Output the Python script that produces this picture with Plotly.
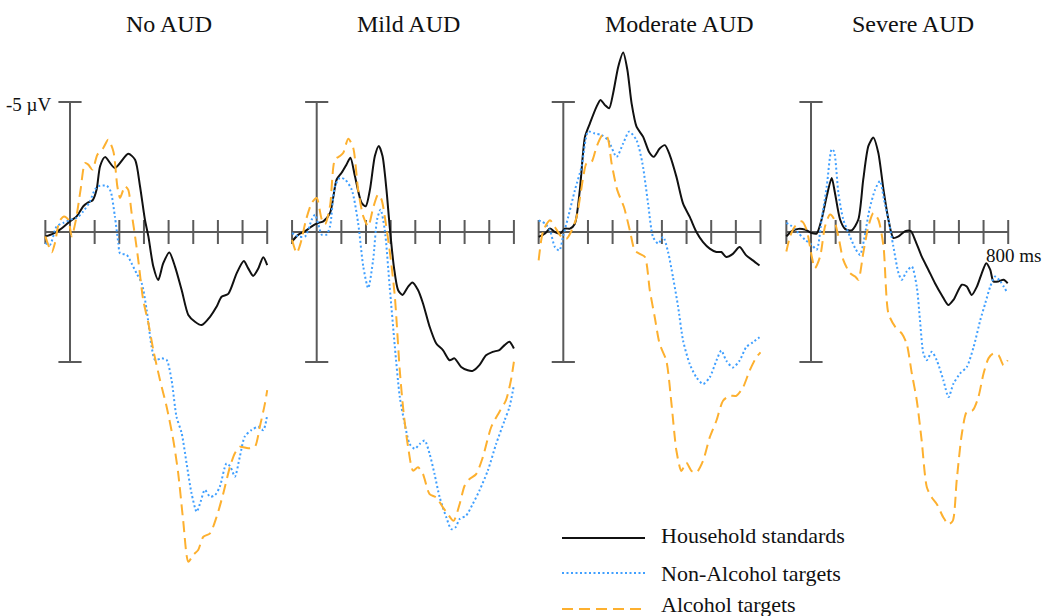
import plotly.graph_objects as go

W, H = 1045, 616

panel_titles = ["No AUD", "Mild AUD", "Moderate AUD", "Severe AUD"]
series_names = ["Household standards", "Non-Alcohol targets", "Alcohol targets"]
tick_times = [-100, 0, 100, 200, 300, 400, 500, 600, 700, 800]

# ---------------- No AUD ----------------
no_std_t = [-100, -68, -41, 0, 27, 54, 74, 92, 108, 122, 142, 182, 236, 264, 284, 304, 318, 338, 358, 378, 403, 426,
            453, 480, 507, 534, 568, 595, 615, 642, 676, 705, 723, 743, 764, 784, 800]
no_std_v = [0.17, 0.06, -0.09, -0.41, -0.6, -0.99, -1.14, -1.22, -1.63, -2.53, -2.88, -2.46, -3.01, -2.78, -1.76,
            -0.47, 0.17, 1.33, 1.85, 1.21, 0.79, 1.33, 2.23, 3.19, 3.45, 3.58, 3.26, 2.87, 2.49, 2.38, 1.59, 1.12,
            1.40, 1.69, 1.40, 0.97, 1.27]
no_non_t = [-100, -81, -54, -27, 0, 27, 54, 81, 101, 115, 149, 165, 182, 196, 203, 230, 250, 270, 291, 311, 331, 345,
            372, 392, 412, 432, 453, 473, 493, 514, 530, 547, 568, 588, 608, 635, 651, 669, 689, 709, 736, 764, 784,
            800]
no_non_v = [0.42, 0.49, -0.22, -0.35, -0.47, -0.54, -0.79, -1.18, -1.63, -1.76, -1.78, -1.56, -0.60, 0.42, 0.82,
            0.88, 1.21, 1.59, 1.97, 3.0, 4.41, 4.92, 4.86, 4.92, 5.69, 7.1, 7.74, 8.9, 10.05, 10.76, 10.37, 9.92,
            10.18, 10.12, 9.79, 8.9, 9.03, 9.41, 8.64, 7.87, 7.62, 7.49, 7.62, 7.04]
no_alc_t = [-100, -74, -61, -43, -24, -7, 7, 24, 43, 61, 74, 91, 111, 135, 155, 176, 192, 203, 223, 236, 250, 264,
            277, 297, 318, 338, 365, 392, 419, 439, 459, 480, 500, 520, 541, 568, 595, 622, 649, 669, 689, 723, 750,
            770, 791, 800]
no_alc_v = [0.17, 0.78, 0.42, -0.41, -0.60, -0.47, 0.17, -0.47, -1.63, -2.65, -2.59, -2.40, -2.97, -3.23, -3.55,
            -3.10, -1.76, -1.31, -1.76, -1.63, -0.73, 0.17, 1.08, 2.62, 3.51, 4.54, 5.69, 6.72, 8.0, 9.28, 11.08,
            12.68, 12.42, 12.23, 11.72, 11.59, 10.95, 10.05, 9.03, 8.51, 8.26, 8.32, 8.26, 7.49, 6.59, 6.08]

# ---------------- Mild AUD ----------------
mild_std_t = [-100, -74, -47, -20, 7, 27, 54, 81, 101, 121, 137, 155, 182, 199, 216, 236, 252, 267, 283, 296, 313,
              330, 348, 371, 388, 411, 431, 458, 485, 512, 539, 559, 586, 613, 633, 660, 687, 714, 741, 762, 782, 800]
mild_std_v = [0.36, 0.10, -0.03, -0.22, -0.35, -0.41, -0.73, -2.02, -2.28, -2.6, -2.86, -2.15, -1.12, -0.99, -1.63,
              -2.92, -3.31, -2.92, -1.63, -0.22, 1.33, 2.23, 2.42, 2.10, 1.94, 2.23, 2.74, 3.64, 4.29, 4.54, 4.93,
              4.86, 5.19, 5.32, 5.34, 5.12, 4.74, 4.61, 4.54, 4.35, 4.22, 4.48]
mild_non_t = [-100, -74, -47, -20, -7, 7, 20, 40, 54, 74, 94, 115, 142, 168, 189, 209, 229, 245, 259, 276, 296, 317,
              337, 357, 377, 398, 418, 438, 458, 478, 499, 526, 546, 563, 580, 606, 633, 660, 694, 728, 762, 782, 800]
mild_non_v = [0.04, 0.17, 0.17, -0.48, -0.67, -0.28, 0.10, 0.10, -0.22, -1.76, -2.08, -2.02, -1.63, -0.35, 1.33,
              2.16, 1.07, -0.48, -0.86, -0.09, 2.10, 4.41, 6.34, 7.37, 8.15, 8.34, 8.15, 8.02, 8.53, 9.31, 10.21,
              10.98, 11.43, 11.36, 11.04, 10.91, 10.46, 9.95, 9.18, 8.15, 7.25, 6.73, 5.89]
mild_alc_t = [-100, -81, -65, -43, -20, 0, 20, 34, 54, 74, 94, 108, 128, 148, 168, 189, 209, 229, 249, 263, 280, 299,
              317, 337, 353, 371, 391, 411, 431, 458, 485, 512, 532, 555, 580, 600, 620, 647, 674, 708, 741, 768, 788,
              800]
mild_alc_v = [0.30, 0.81, 0.42, -0.48, -1.12, -1.31, -0.5, -0.3, -1.0, -2.79, -2.92, -3.05, -3.59, -3.24, -1.63,
              -0.60, -0.22, -0.93, -1.44, -1.25, -0.35, 0.94, 2.48, 5.32, 6.99, 8.28, 9.18, 9.05, 9.31, 10.08, 10.21,
              10.59, 10.85, 11.11, 10.46, 9.76, 9.50, 9.31, 8.66, 7.50, 6.92, 6.47, 5.70, 4.99]

# ---------------- Moderate AUD ----------------
mod_std_t = [-100, -74, -54, -34, -13, 7, 27, 47, 67, 88, 108, 135, 151, 169, 186, 202, 223, 243, 260, 277, 297, 324,
             348, 367, 391, 412, 432, 459, 486, 513, 540, 567, 594, 621, 641, 661, 688, 715, 742, 769, 796]
mod_std_v = [0.19, 0.06, -0.13, 0, 0.06, -0.13, -0.13, -0.32, -1.61, -3.66, -4.18, -4.82, -5.08, -4.88, -4.76, -5.33,
             -6.36, -6.90, -6.23, -4.95, -4.05, -3.66, -3.08, -2.89, -3.21, -3.34, -2.96, -2.12, -1.09, -0.58, 0,
             0.39, 0.64, 0.77, 0.77, 0.96, 0.84, 0.58, 0.90, 1.09, 1.29]
mod_non_t = [-100, -74, -54, -34, -16, 0, 20, 47, 74, 101, 128, 155, 182, 216, 243, 267, 297, 321, 344, 364, 385, 405,
             425, 445, 466, 486, 513, 540, 567, 594, 621, 641, 661, 688, 715, 742, 769, 796]
mod_non_v = [-0.45, -0.32, -0.06, 0.58, 0.71, 0.13, -0.58, -1.61, -2.51, -3.86, -3.79, -3.73, -3.53, -2.89, -3.41,
             -3.86, -3.53, -2.64, -1.09, 0.19, 0.45, 0.19, 0.77, 1.74, 2.89, 4.18, 5.08, 5.59, 5.85, 5.59, 4.95, 4.56,
             4.95, 5.21, 4.95, 4.43, 4.24, 4.05]
mod_alc_t = [-100, -81, -54, -34, -7, 13, 34, 54, 81, 94, 115, 135, 159, 178, 196, 219, 246, 270, 290, 310, 331, 351,
             371, 391, 418, 439, 459, 479, 499, 520, 540, 567, 594, 621, 648, 675, 702, 729, 756, 783, 800]
mod_alc_v = [1.09, -0.06, -0.45, -0.19, 0.19, 0.26, -0.06, -0.58, -2.12, -2.64, -2.70, -3.28, -3.73, -3.66, -2.64,
             -1.61, -0.96, -0.06, 0.71, 0.84, 0.96, 2.25, 3.28, 4.31, 4.95, 6.62, 8.42, 9.19, 8.87, 9.19, 9.25, 8.80,
             7.90, 7.26, 6.49, 6.30, 6.30, 5.98, 5.33, 4.82, 4.63]

# ---------------- Severe AUD ----------------
sev_std_t = [-100, -78, -51, -24, 3, 23, 43, 64, 84, 97, 118, 138, 165, 192, 212, 233, 253, 273, 294, 314, 334, 355,
             382, 405, 422, 449, 476, 503, 530, 557, 578, 612, 632, 652, 673, 693, 711, 727, 740, 760, 781, 798]
sev_std_v = [0.17, -0.03, -0.12, -0.09, 0.04, 0.06, -0.48, -1.38, -2.08, -1.51, -0.48, -0.12, -0.06, -0.48, -2.02,
             -3.31, -3.63, -3.05, -1.63, -0.48, 0.23, 0.17, -0.03, -0.03, 0.30, 0.94, 1.45, 1.97, 2.42, 2.81, 2.61,
             2.03, 2.10, 2.42, 2.10, 1.58, 1.20, 1.45, 1.90, 1.90, 1.84, 1.97]
sev_non_t = [-100, -78, -51, -24, 3, 23, 43, 64, 84, 93, 111, 131, 158, 179, 199, 215, 237, 260, 280, 296, 314, 334,
             355, 368, 388, 409, 429, 442, 456, 470, 490, 510, 537, 558, 578, 605, 632, 660, 687, 707, 727, 747, 768,
             798]
sev_non_v = [-0.35, -0.22, 0.04, 0.30, 0.49, 0.68, -0.48, -1.76, -3.18, -3.11, -1.51, -0.48, 0.17, 0.62, 0.88, 0.30,
             -0.86, -1.63, -1.96, -1.25, -0.48, 0.55, 1.58, 1.84, 1.52, 1.33, 2.10, 3.38, 4.67, 4.93, 4.61, 4.93,
             5.70, 6.35, 5.83, 5.44, 5.19, 4.41, 3.38, 2.74, 2.10, 1.71, 1.90, 2.36]
sev_alc_t = [-100, -85, -65, -38, -18, 3, 16, 37, 57, 77, 91, 111, 131, 158, 179, 192, 212, 233, 253, 273, 294, 314,
             341, 368, 388, 409, 429, 449, 470, 490, 510, 537, 558, 575, 591, 612, 632, 656, 679, 700, 720, 740, 761,
             781, 798]
sev_alc_v = [0.75, 0.17, -0.22, -0.41, -0.09, 0.94, 1.39, 0.94, -0.22, -0.67, -0.54, 0.17, 1.07, 1.58, 1.71, 1.84,
             0.81, -0.22, -0.73, -0.48, 0.55, 3.13, 3.64, 3.90, 4.29, 5.44, 6.47, 8.02, 9.82, 10.21, 10.46, 10.98,
             11.24, 11.11, 9.56, 7.76, 6.92, 6.86, 6.35, 5.44, 4.86, 4.67, 4.74, 5.12, 4.93]

panels = [
    [(no_std_t, no_std_v), (no_non_t, no_non_v), (no_alc_t, no_alc_v)],
    [(mild_std_t, mild_std_v), (mild_non_t, mild_non_v), (mild_alc_t, mild_alc_v)],
    [(mod_std_t, mod_std_v), (mod_non_t, mod_non_v), (mod_alc_t, mod_alc_v)],
    [(sev_std_t, sev_std_v), (sev_non_t, sev_non_v), (sev_alc_t, sev_alc_v)],
]

# ---------------- styling / layout ----------------
colors = ["#111111", "#3f9fff", "#fdb02f"]
dashes = ["solid", "2px,2.5px", "11px,6px"]
widths = [2.0, 2.0, 2.0]
axis_color = "#5a5a5a"
FONT = "Liberation Serif"

origin_px = [70, 316.7, 563.3, 811]    # pixel x of t=0 per panel
px_per_ms = 0.2465
x_lo, x_hi = -150, 830
y_top_v, y_bot_v = -7.5, 13.5
y_top_px, y_bot_px = 37, 583
title_x_px = [169, 408.5, 679.5, 912.5]

fig = go.Figure()
layout = dict(
    width=W, height=H, margin=dict(l=0, r=0, t=0, b=0),
    paper_bgcolor="white", plot_bgcolor="rgba(0,0,0,0)", showlegend=False,
    yaxis=dict(range=[y_bot_v, y_top_v], domain=[1 - y_bot_px / H, 1 - y_top_px / H], visible=False,
               fixedrange=True),
)
shapes = []
annotations = []
for i, series in enumerate(panels):
    xa = "x" if i == 0 else f"x{i + 1}"
    key = "xaxis" if i == 0 else f"xaxis{i + 1}"
    left = origin_px[i] + x_lo * px_per_ms
    right = origin_px[i] + x_hi * px_per_ms
    layout[key] = dict(range=[x_lo, x_hi], domain=[left / W, right / W], anchor="y", visible=False,
                       fixedrange=True)
    # axes drawn in data units
    shapes.append(dict(type="line", xref=xa, yref="y", x0=tick_times[0], x1=tick_times[-1], y0=0, y1=0,
                       line=dict(color=axis_color, width=2), layer="below"))
    shapes.append(dict(type="line", xref=xa, yref="y", x0=0, x1=0, y0=-5, y1=5,
                       line=dict(color=axis_color, width=2), layer="below"))
    for yv in (-5, 5):
        shapes.append(dict(type="line", xref=xa, yref="y", x0=-47, x1=47, y0=yv, y1=yv,
                           line=dict(color=axis_color, width=2), layer="below"))
    for tt in tick_times:
        if tt == 0:
            continue
        shapes.append(dict(type="line", xref=xa, yref="y", x0=tt, x1=tt, y0=-0.46, y1=0.46,
                           line=dict(color=axis_color, width=2), layer="below"))
    for k, (tt, vv) in enumerate(series):
        fig.add_trace(go.Scatter(
            x=tt, y=vv, mode="lines", xaxis=xa, yaxis="y", name=series_names[k],
            line=dict(color=colors[k], width=widths[k], dash=dashes[k], shape="spline", smoothing=0.7),
            hoverinfo="skip"))
    annotations.append(dict(text=panel_titles[i], x=title_x_px[i] / W, y=1 - 24 / H, xref="paper", yref="paper",
                            xanchor="center", yanchor="middle", showarrow=False,
                            font=dict(family=FONT, size=24, color="#111111")))

annotations.append(dict(text="-5 µV", x=54 / W, y=1 - 105 / H, xref="paper", yref="paper",
                        xanchor="right", yanchor="middle", showarrow=False,
                        font=dict(family=FONT, size=19, color="#111111")))
annotations.append(dict(text="800 ms", x=984 / W, y=1 - 255 / H, xref="paper", yref="paper",
                        xanchor="left", yanchor="middle", showarrow=False,
                        font=dict(family=FONT, size=19, color="#111111")))

# manual legend
leg_line_y = [538, 573, 609]
leg_text_y = [535.5, 573.5, 604.5]
for k in range(3):
    shapes.append(dict(type="line", xref="paper", yref="paper", x0=562 / W, x1=645 / W,
                       y0=1 - leg_line_y[k] / H, y1=1 - leg_line_y[k] / H,
                       line=dict(color=colors[k], width=2, dash=dashes[k])))
    annotations.append(dict(text=series_names[k], x=659 / W, y=1 - leg_text_y[k] / H, xref="paper", yref="paper",
                            xanchor="left", yanchor="middle", showarrow=False,
                            font=dict(family=FONT, size=22, color="#111111")))

layout["shapes"] = shapes
layout["annotations"] = annotations
fig.update_layout(**layout)
fig.write_html("out.html", config={"displayModeBar": False})
